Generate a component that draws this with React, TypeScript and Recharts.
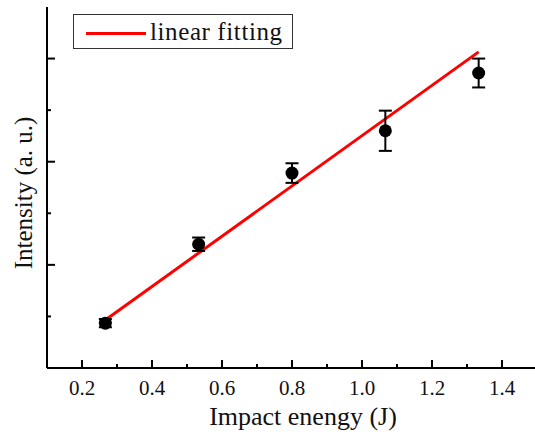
import { ComposedChart, XAxis, YAxis, Scatter, Line, ErrorBar, Label, Legend } from 'recharts'

// measured points
const energy = [0.2667, 0.5333, 0.8, 1.0667, 1.3333]
const intensity = [0.87, 2.4, 3.78, 4.6, 5.72]
const errors = [0.08, 0.13, 0.19, 0.39, 0.28]

// linear fit end points
const fitX = [0.2667, 1.3333]
const fitY = [0.93, 6.13]

const xTicks = [0.2, 0.3, 0.4, 0.5, 0.6, 0.7, 0.8, 0.9, 1.0, 1.1, 1.2, 1.3, 1.4]
const yTicks = [1, 2, 3, 4, 5, 6]

const FONT = "'Liberation Serif', 'DejaVu Serif', 'Times New Roman', serif"

const points = energy.map((x, i) => ({ x, y: intensity[i], err: errors[i] }))
const fit = fitX.map((x, i) => ({ x, y: fitY[i] }))

function XTick({ x, y, payload }: any) {
  const major = Math.round(payload.value * 10) % 2 === 0
  return (
    <g>
      <line x1={x} x2={x} y1={y} y2={y - (major ? 8 : 4)} stroke="#000" strokeWidth={2} />
      {major && (
        <text x={x} y={y + 27} textAnchor="middle" style={{ fontFamily: FONT }} fontSize={21} fill="#111">
          {payload.value.toFixed(1)}
        </text>
      )}
    </g>
  )
}

function YTick({ x, y, payload }: any) {
  const major = payload.value % 2 === 0
  return <line x1={x} x2={x + (major ? 8 : 4)} y1={y} y2={y} stroke="#000" strokeWidth={2} />
}

function Dot({ cx, cy }: any) {
  return <circle cx={cx} cy={cy} r={6.5} fill="#000" />
}

function FitLegend() {
  return (
    <div style={{ width: 218, height: 33, border: '1px solid #333', position: 'relative', background: '#fff' }}>
      <div style={{ position: 'absolute', left: 12, top: 17, width: 60, height: 3, background: '#ff0000' }} />
      <span
        style={{
          position: 'absolute',
          left: 76,
          top: 0,
          fontFamily: FONT,
          fontSize: 25,
          letterSpacing: 0.6,
          lineHeight: '33px',
          color: '#111',
          whiteSpace: 'nowrap'
        }}
      >
        linear fitting
      </span>
    </div>
  )
}

export default function App() {
  return (
    <div style={{ position: 'absolute', left: 0, top: 0, width: 535, height: 434, overflow: 'hidden', background: '#fff', fontFamily: FONT }}>
      <ComposedChart width={545} height={434} margin={{ top: 7, right: 8, left: 0, bottom: 0 }} style={{ fontFamily: FONT }}>
        <XAxis
          dataKey="x"
          type="number"
          domain={[0.1, 1.5]}
          ticks={xTicks}
          interval={0}
          height={66}
          tickSize={0}
          tickMargin={0}
          tickLine={false}
          tick={<XTick />}
          axisLine={{ stroke: '#000', strokeWidth: 2 }}
        >
          <Label
            value="Impact enengy (J)"
            position="insideBottom"
            offset={9}
            dx={11}
            style={{ fontFamily: FONT, fontSize: 26, fill: '#111' }}
          />
        </XAxis>
        <XAxis
          xAxisId="top"
          orientation="top"
          type="number"
          domain={[0.1, 1.5]}
          height={0}
          tick={false}
          tickLine={false}
          axisLine={{ stroke: '#000', strokeWidth: 2 }}
        />
        <YAxis
          type="number"
          domain={[0, 7]}
          ticks={yTicks}
          interval={0}
          width={47}
          tickSize={0}
          tickMargin={0}
          tickLine={false}
          tick={<YTick />}
          axisLine={{ stroke: '#000', strokeWidth: 2 }}
        >
          <Label
            content={() => (
              <text
                x={32}
                y={193}
                transform="rotate(-90 32 193)"
                textAnchor="middle"
                style={{ fontFamily: FONT }}
                fontSize={25}
                fill="#111"
              >
                Intensity (a. u.)
              </text>
            )}
          />
        </YAxis>
        <YAxis
          yAxisId="right"
          orientation="right"
          type="number"
          domain={[0, 7]}
          width={0}
          tick={false}
          tickLine={false}
          axisLine={{ stroke: '#000', strokeWidth: 2 }}
        />
        <Legend
          layout="vertical"
          align="center"
          verticalAlign="middle"
          wrapperStyle={{ left: 73, top: 14, width: 220 }}
          content={() => <FitLegend />}
        />
        <Line
          data={fit}
          dataKey="y"
          type="linear"
          stroke="#ff0000"
          strokeWidth={3}
          dot={false}
          activeDot={false}
          isAnimationActive={false}
        />
        <Scatter data={points} dataKey="y" shape={<Dot />} isAnimationActive={false}>
          <ErrorBar dataKey="err" direction="y" width={6.5} stroke="#000" strokeWidth={2} />
        </Scatter>
      </ComposedChart>
    </div>
  )
}
